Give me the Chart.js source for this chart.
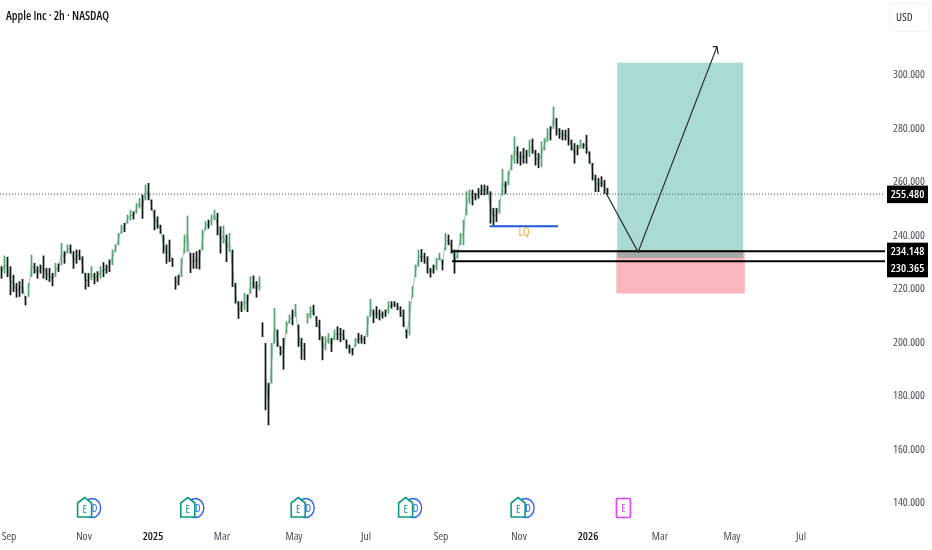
<!DOCTYPE html>
<html>
<head>
<meta charset="utf-8">
<title>Apple Inc 2h</title>
<script src="https://cdn.jsdelivr.net/npm/chart.js@4"></script>
<style>
  html, body { margin: 0; padding: 0; background: #fff; }
  canvas { display: block; }
</style>
</head>
<body>
<canvas id="chart" width="932" height="550"></canvas>
<script>
// Candles, one bar slot each
const highs = [228.4,232.4,231.9,228.4,225.2,222.1,222.8,223.6,217.2,222.1,232.7,229.6,228.4,229.0,232.4,227.7,227.7,225.9,229.6,229.4,
  237.1,234.0,236.5,236.5,234.0,234.6,234.6,232.1,225.9,225.9,228.4,225.9,226.5,228.4,229.9,229.0,230.9,234.6,236.5,240.8,
  243.9,244.6,247.7,249.5,248.9,252.0,253.9,255.2,258.9,259.5,253.3,249.5,247.0,243.9,240.2,236.5,238.3,231.5,224.6,225.2,
  231.5,240.2,247.3,233.4,233.4,234.0,234.6,242.1,245.2,245.8,247.7,249.5,248.3,243.3,243.6,240.2,240.8,234.6,222.1,215.3,
  215.3,218.4,217.8,224.6,224.9,222.8,224.6,207.4,199.7,184.8,199.7,212.8,204.7,198.5,201.6,207.8,210.3,212.2,214.3,206.6,
  201.6,199.7,210.9,213.4,214.0,209.7,208.4,202.2,202.2,203.4,201.6,204.7,205.9,205.3,204.7,201.0,199.1,197.8,201.6,203.4,
  202.8,202.2,209.7,216.2,212.2,213.4,212.2,211.5,212.2,215.3,215.3,215.3,214.7,213.4,212.2,204.7,215.3,220.9,229.0,234.6,
  234.8,233.4,232.1,227.7,229.0,231.5,233.4,230.9,240.8,240.2,238.3,234.6,234.6,240.8,245.8,256.4,257.0,257.0,255.8,257.6,
  258.9,258.9,258.5,256.4,250.2,250.2,253.3,264.8,260.1,264.1,270.1,276.9,273.2,271.3,272.6,271.9,275.7,276.1,271.9,270.7,
  275.1,276.3,280.0,280.7,288.1,283.8,280.0,279.4,279.4,280.0,275.7,274.4,273.8,275.7,274.4,277.5,271.3,267.0,262.6,261.4,
  262.0,260.7,257.6];
const lows = [224.0,225.9,224.6,217.8,219.0,216.9,217.2,218.4,214.0,217.2,224.6,225.9,224.0,225.9,224.0,223.4,222.8,221.1,224.6,226.5,
  229.0,229.6,233.4,233.4,227.7,229.6,230.9,225.9,219.9,220.9,223.4,221.9,222.8,224.0,224.6,225.9,226.5,229.0,234.0,236.5,
  240.8,241.4,244.6,245.8,246.1,248.3,250.2,246.4,253.3,253.3,249.5,242.1,242.7,240.8,233.4,229.6,230.2,228.4,219.9,221.5,
  224.6,233.4,234.0,226.1,227.7,227.7,227.4,234.6,242.1,242.7,243.9,245.8,240.2,233.4,237.1,230.2,234.0,220.9,214.7,209.0,
  211.5,212.2,211.5,218.4,220.3,216.9,219.6,202.2,174.8,169.2,184.8,199.7,198.5,195.3,190.0,203.4,207.2,206.6,209.7,198.5,
  193.7,193.5,207.2,209.1,210.3,205.9,201.0,193.5,197.2,199.7,196.6,201.0,201.0,200.3,201.0,197.8,196.0,195.3,198.5,199.7,
  199.7,199.5,202.2,209.7,207.4,209.1,208.4,209.1,209.7,210.9,212.8,213.4,212.2,209.7,205.9,201.6,202.8,216.9,224.6,228.4,
  230.2,229.6,225.9,224.4,225.9,227.1,230.9,227.1,234.6,236.5,233.4,225.9,231.5,236.5,236.5,247.7,252.0,251.4,253.3,253.9,
  255.2,255.2,255.5,244.6,243.9,245.2,248.3,255.1,255.7,258.9,264.5,267.0,267.0,266.3,267.0,267.0,269.5,270.7,266.3,265.3,
  265.7,271.9,275.1,275.7,280.0,277.5,276.3,275.7,275.7,273.8,271.9,267.0,270.1,272.6,272.6,270.7,267.0,260.7,256.4,256.4,
  258.2,255.7,255.4];
// Slots after which the price jumps with nothing drawn between
const gapSlots = [8, 57, 86, 87, 101];

// Axis ticks
const priceTicks = [140,160,180,200,220,240,260,280,300];
const timeTicks = [3,28,51,74,98,122,147,173,196,220,244,267];
const timeLabels = ['Sep','Nov','2025','Mar','May','Jul','Sep','Nov','2026','Mar','May','Jul'];

// Price lines and drawings
const lastPrice = 255.48;
const stopLevels = [234.148, 230.365];
const stopStartSlot = 150.7;
const liquiditySlots = [163.2, 186];
const liquidityPrice = 243.5;
const targetSlots = [205.7, 247.8];
const targetRange = [304.6, 231.6];
const riskSlots = [205.4, 248.3];
const riskRange = [234.6, 218.3];
const pathSlots = [202, 212.7, 239];
const pathPrices = [255.9, 233.8, 310.6];
const arrowSlots = [237.6, 239, 239.4];
const arrowPrices = [310.6, 310.6, 307.8];

// Earnings and dividend markers along the bottom
const reportedSlots = [28.2, 62.6, 99.4, 135.2, 172.7];
const upcomingSlots = [207.8];

const FAMILY = '"Open Sans", sans-serif';
const SQUEEZE = 'condensed';

const candles = highs.map((h, i) => ({ x: i + 0.5, y: [lows[i], h] }));
const midpoint = (i) => (highs[i] + lows[i]) / 2;
// Only the clearly rising slots read as green at this zoom, the rest look black
const candleColors = highs.map((h, i) => (i && midpoint(i) - midpoint(i - 1) > 1.5) ? '#55a572' : '#10181a');

// Thin trace joining the candles, broken at the gaps
const trace = [];
highs.forEach((h, i) => {
    trace.push({ x: i + 0.5, y: midpoint(i) });
    if (gapSlots.includes(i)) trace.push({ x: i + 1, y: null });
});

const segment = (xs, ys) => xs.map((x, i) => ({ x, y: ys[i] }));
const flat = (xs, y) => xs.map(x => ({ x, y }));

const overlay = {
    id: 'overlay',
    afterDraw(chart) {
        const { ctx, scales: { x, y } } = chart;
        ctx.save();

        // Header
        ctx.textBaseline = 'middle';
        ctx.textAlign = 'left';
        ctx.fillStyle = '#131722';
        ctx.font = `${SQUEEZE} 600 12px ${FAMILY}`;
        ctx.fillText('Apple Inc · 2h · NASDAQ', 6, 17);

        // Currency box
        ctx.strokeStyle = '#f0f2f6';
        ctx.lineWidth = 1;
        ctx.beginPath();
        ctx.roundRect(889.5, 3.5, 39, 28, 4);
        ctx.stroke();
        ctx.fillStyle = '#2a2e39';
        ctx.font = `${SQUEEZE} 11.5px ${FAMILY}`;
        ctx.fillText('USD', 896, 18);

        // Liquidity label
        ctx.textAlign = 'center';
        ctx.fillStyle = '#f5a742';
        ctx.font = `${SQUEEZE} 12px ${FAMILY}`;
        ctx.fillText('LQ', x.getPixelForValue(174.7), y.getPixelForValue(liquidityPrice) + 6);

        // Price tags on the axis
        const tags = [[lastPrice, 0], [stopLevels[0], 0], [stopLevels[1], 7]];
        ctx.font = `${SQUEEZE} 600 11.5px ${FAMILY}`;
        tags.forEach(([price, shift]) => {
            const py = y.getPixelForValue(price) + shift;
            ctx.fillStyle = '#000';
            ctx.fillRect(887, py - 8.5, 41, 17.5);
            ctx.fillStyle = '#fff';
            ctx.fillText(price.toFixed(3), 907.5, py + 0.5);
        });

        // Earnings + dividend badges
        ctx.font = `${SQUEEZE} 11px ${FAMILY}`;
        reportedSlots.forEach(slot => {
            const cx = x.getPixelForValue(slot);
            ctx.strokeStyle = '#2962ff';
            ctx.lineWidth = 1.4;
            ctx.beginPath();
            ctx.ellipse(cx + 7.5, 508, 8.5, 9.5, 0, 0, Math.PI * 2);
            ctx.stroke();
            ctx.fillStyle = '#2962ff';
            ctx.fillText('D', cx + 10, 509);

            ctx.fillStyle = '#fff';
            ctx.strokeStyle = '#0d9a80';
            ctx.lineWidth = 1.6;
            ctx.beginPath();
            ctx.moveTo(cx, 497.5);
            ctx.lineTo(cx + 7, 503);
            ctx.lineTo(cx + 7, 517);
            ctx.lineTo(cx - 7, 517);
            ctx.lineTo(cx - 7, 503);
            ctx.closePath();
            ctx.fill();
            ctx.stroke();
            ctx.fillStyle = '#0d9a80';
            ctx.fillText('E', cx, 510);
        });
        upcomingSlots.forEach(slot => {
            const cx = x.getPixelForValue(slot);
            ctx.strokeStyle = '#e040fb';
            ctx.lineWidth = 1.6;
            ctx.beginPath();
            ctx.roundRect(cx - 7, 498.5, 14, 19, 1.5);
            ctx.stroke();
            ctx.fillStyle = '#c94be0';
            ctx.fillText('E', cx, 509);
        });

        ctx.restore();
    }
};

new Chart(document.getElementById('chart'), {
    type: 'bar',
    plugins: [overlay],
    data: {
        datasets: [
            // Risk / reward boxes
            { type: 'line', data: flat(riskSlots, riskRange[0]), fill: { value: riskRange[1] }, backgroundColor: 'rgba(242,54,69,0.36)', borderWidth: 0, pointRadius: 0, order: 9 },
            { type: 'line', data: flat(targetSlots, targetRange[0]), fill: { value: targetRange[1] }, backgroundColor: 'rgba(8,153,129,0.35)', borderWidth: 0, pointRadius: 0, order: 8 },
            // Last price
            { type: 'line', data: flat([0, 295], lastPrice), borderColor: '#444b55', borderWidth: 1, borderDash: [1, 2], pointRadius: 0, order: 7 },
            // Candles
            { type: 'line', data: trace, borderColor: 'rgba(70,150,100,0.6)', borderWidth: 0.9, pointRadius: 0, spanGaps: false, order: 6 },
            { data: candles, backgroundColor: candleColors, barThickness: 1.1, order: 5 },
            // Horizontal levels
            { type: 'line', data: flat([stopStartSlot, 295], stopLevels[0]), borderColor: '#000', borderWidth: 2, pointRadius: 0, order: 3 },
            { type: 'line', data: flat([stopStartSlot, 295], stopLevels[1]), borderColor: '#000', borderWidth: 2, pointRadius: 0, order: 3 },
            { type: 'line', data: flat(liquiditySlots, liquidityPrice), borderColor: '#1c5ad8', borderWidth: 2, pointRadius: 0, order: 3 },
            // Projected path
            { type: 'line', data: segment(pathSlots, pathPrices), borderColor: '#1f2b2b', borderWidth: 1.2, pointRadius: 0, order: 2 },
            { type: 'line', data: segment(arrowSlots, arrowPrices), borderColor: '#1f2b2b', borderWidth: 1.2, pointRadius: 0, order: 2 }
        ]
    },
    options: {
        responsive: false,
        animation: false,
        devicePixelRatio: 1,
        layout: { padding: 0 },
        plugins: { legend: { display: false }, tooltip: { enabled: false } },
        scales: {
            x: {
                type: 'linear',
                offset: false,
                min: 0,
                max: 295,
                grid: { display: false },
                border: { display: false },
                afterBuildTicks: (axis) => { axis.ticks = timeTicks.map(value => ({ value })); },
                afterFit: (axis) => { axis.height = 32; axis.paddingLeft = 0; axis.paddingRight = 0; },
                ticks: {
                    autoSkip: false,
                    maxRotation: 0,
                    padding: 4,
                    color: (c) => /^20/.test(timeLabels[c.index]) ? '#131722' : '#4a4f5c',
                    font: (c) => ({ family: FAMILY, size: 11.5, weight: SQUEEZE + (/^20/.test(timeLabels[c.index]) ? ' 600' : '') }),
                    callback: (value, index) => timeLabels[index]
                }
            },
            y: {
                position: 'right',
                min: 134.4,
                max: 328.04,
                grid: { display: false, drawTicks: false },
                border: { display: false },
                afterBuildTicks: (axis) => { axis.ticks = priceTicks.map(value => ({ value })); },
                afterFit: (axis) => { axis.width = 47; axis.paddingTop = 0; axis.paddingBottom = 0; },
                ticks: {
                    padding: 8,
                    color: '#4a4f5c',
                    font: { family: FAMILY, size: 11.5, weight: SQUEEZE },
                    callback: (value) => value.toFixed(3)
                }
            }
        }
    }
});
</script>
</body>
</html>
